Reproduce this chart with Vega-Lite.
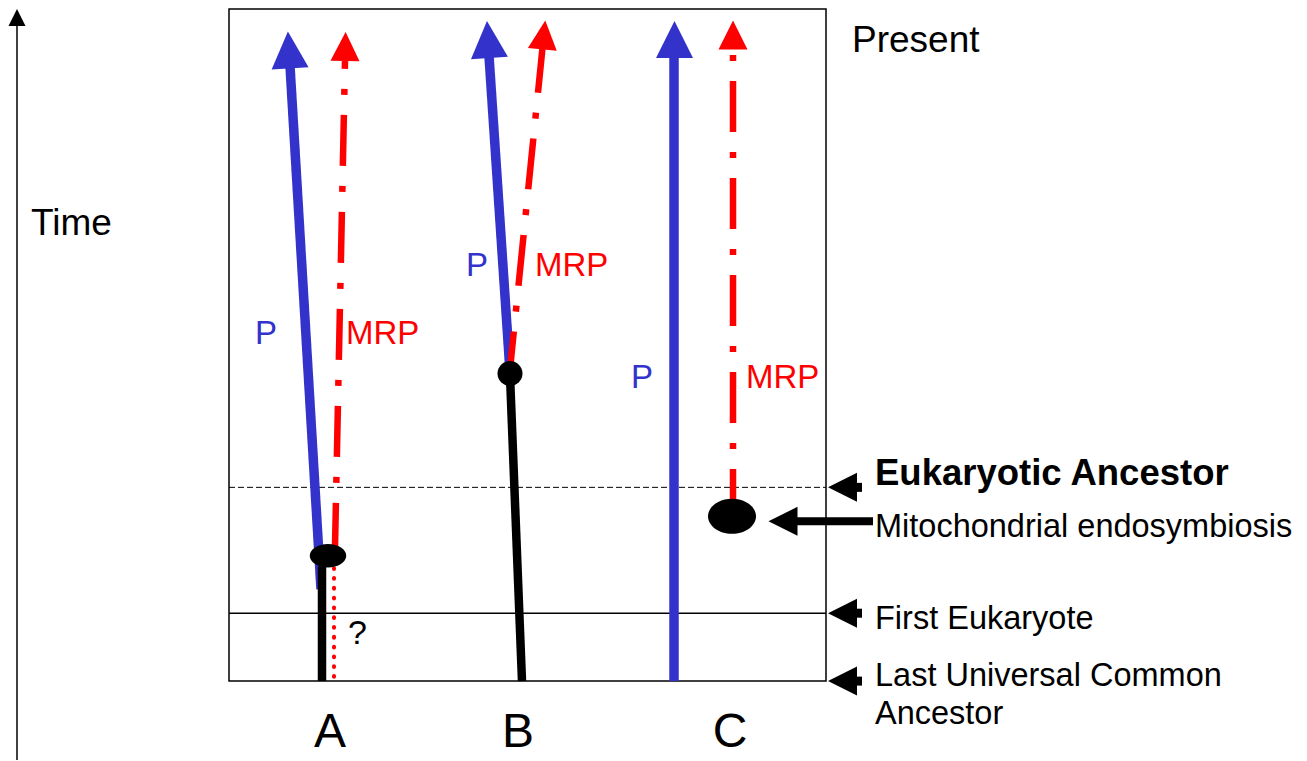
{
  "$schema": "https://vega.github.io/schema/vega-lite/v6.json",
  "width": 1307,
  "height": 761,
  "autosize": {"type": "fit", "contains": "padding"},
  "padding": 0,
  "background": "white",
  "config": {"view": {"stroke": null}, "text": {"font": "Liberation Sans"}},
  "datasets": {
    "box": [{"x": 229, "y": 9, "x2": 826, "y2": 682}],
    "hlines": [
      {"x": 229, "x2": 826, "y": 488, "kind": "dashed"},
      {"x": 229, "x2": 826, "y": 614, "kind": "solid"}
    ],
    "segs": [
      {"id": "PA", "x": 321, "y": 590, "x2": 290, "y2": 66},
      {"id": "PB", "x": 510, "y": 372, "x2": 489, "y2": 56},
      {"id": "PC", "x": 674, "y": 682, "x2": 674, "y2": 56},
      {"id": "SA", "x": 322, "y": 567, "x2": 322, "y2": 682},
      {"id": "SB", "x": 510, "y": 376, "x2": 522, "y2": 682},
      {"id": "MA", "x": 345, "y": 61, "x2": 335, "y2": 548},
      {"id": "MB", "x": 542.4, "y": 49, "x2": 510.5, "y2": 365},
      {"id": "MC", "x": 733, "y": 49, "x2": 733, "y2": 505},
      {"id": "QA", "x": 334, "y": 569, "x2": 334, "y2": 682},
      {"id": "T1", "x": 855, "y": 488, "x2": 862, "y2": 488},
      {"id": "T2", "x": 855, "y": 614, "x2": 862, "y2": 614},
      {"id": "T3", "x": 855, "y": 682, "x2": 862, "y2": 682},
      {"id": "TM", "x": 795, "y": 522, "x2": 873, "y2": 522},
      {"id": "TIME", "x": 17, "y": 761, "x2": 17, "y2": 24}
    ],
    "heads": [
      {"kind": "blue", "x": 289, "y": 50, "angle": -3.4},
      {"kind": "blue", "x": 488.2, "y": 39.5, "angle": -3.8},
      {"kind": "blue", "x": 674.5, "y": 39.5, "angle": 0},
      {"kind": "red", "x": 345.3, "y": 46.5, "angle": 1.2},
      {"kind": "red", "x": 543.8, "y": 35, "angle": 5.8},
      {"kind": "red", "x": 733, "y": 35, "angle": 0},
      {"kind": "left", "x": 842.5, "y": 488, "angle": 0},
      {"kind": "left", "x": 842.5, "y": 614, "angle": 0},
      {"kind": "left", "x": 842.5, "y": 682, "angle": 0},
      {"kind": "left", "x": 783, "y": 522, "angle": 0},
      {"kind": "time", "x": 17, "y": 17.5, "angle": 0}
    ],
    "nodes": [
      {"kind": "ellA", "x": 328, "y": 556.5},
      {"kind": "dotB", "x": 510, "y": 374},
      {"kind": "ellC", "x": 732, "y": 517}
    ],
    "labels": [
      {"kind": "letter", "x": 330, "y": 748, "label": "A"},
      {"kind": "letter", "x": 518, "y": 748, "label": "B"},
      {"kind": "letter", "x": 730, "y": 748, "label": "C"},
      {"kind": "big", "x": 852, "y": 52, "label": "Present"},
      {"kind": "big", "x": 31, "y": 235, "label": "Time"},
      {"kind": "bold", "x": 875, "y": 486, "label": "Eukaryotic Ancestor"},
      {"kind": "side", "x": 875, "y": 538, "label": "Mitochondrial endosymbiosis"},
      {"kind": "side", "x": 875, "y": 630, "label": "First Eukaryote"},
      {"kind": "side", "x": 875, "y": 687, "label": "Last Universal Common"},
      {"kind": "side", "x": 875, "y": 725, "label": "Ancestor"},
      {"kind": "q", "x": 348, "y": 645, "label": "?"},
      {"kind": "P", "x": 255, "y": 344, "label": "P"},
      {"kind": "P", "x": 466, "y": 276, "label": "P"},
      {"kind": "P", "x": 631, "y": 389, "label": "P"},
      {"kind": "MRP", "x": 346, "y": 344, "label": "MRP"},
      {"kind": "MRP", "x": 535, "y": 276, "label": "MRP"},
      {"kind": "MRP", "x": 746, "y": 389, "label": "MRP"}
    ]
  },
  "encoding": {
    "x": {"field": "x", "type": "quantitative", "scale": {"domain": [0, 1307], "nice": false, "zero": false}, "axis": null},
    "y": {"field": "y", "type": "quantitative", "scale": {"domain": [0, 761], "nice": false, "zero": false, "reverse": true}, "axis": null}
  },
  "layer": [
    {
      "data": {"name": "box"},
      "mark": {"type": "rect", "fill": null, "stroke": "black", "strokeWidth": 1.5},
      "encoding": {"x2": {"field": "x2"}, "y2": {"field": "y2"}}
    },
    {
      "data": {"name": "hlines"},
      "transform": [{"filter": "datum.kind === 'dashed'"}],
      "mark": {"type": "rule", "color": "black", "strokeWidth": 1, "strokeDash": [6, 3]},
      "encoding": {"x2": {"field": "x2"}}
    },
    {
      "data": {"name": "hlines"},
      "transform": [{"filter": "datum.kind === 'solid'"}],
      "mark": {"type": "rule", "color": "black", "strokeWidth": 1.5},
      "encoding": {"x2": {"field": "x2"}}
    },
    {
      "data": {"name": "segs"},
      "transform": [{"filter": "datum.id[0] === 'P'"}],
      "mark": {"type": "rule", "color": "#3333CC", "strokeWidth": 9.5},
      "encoding": {"x2": {"field": "x2"}, "y2": {"field": "y2"}}
    },
    {
      "data": {"name": "segs"},
      "transform": [{"filter": "datum.id === 'MA'"}],
      "mark": {"type": "rule", "color": "#FF0000", "strokeWidth": 6.5, "strokeDash": [51, 20, 6, 20], "strokeDashOffset": 43},
      "encoding": {"x2": {"field": "x2"}, "y2": {"field": "y2"}}
    },
    {
      "data": {"name": "segs"},
      "transform": [{"filter": "datum.id === 'MB'"}],
      "mark": {"type": "rule", "color": "#FF0000", "strokeWidth": 6.5, "strokeDash": [51, 20, 6, 20], "strokeDashOffset": 7},
      "encoding": {"x2": {"field": "x2"}, "y2": {"field": "y2"}}
    },
    {
      "data": {"name": "segs"},
      "transform": [{"filter": "datum.id === 'MC'"}],
      "mark": {"type": "rule", "color": "#FF0000", "strokeWidth": 6.5, "strokeDash": [51, 20, 6, 20], "strokeDashOffset": 65},
      "encoding": {"x2": {"field": "x2"}, "y2": {"field": "y2"}}
    },
    {
      "data": {"name": "segs"},
      "transform": [{"filter": "datum.id === 'QA'"}],
      "mark": {"type": "rule", "color": "#FF0000", "strokeWidth": 4, "strokeCap": "round", "strokeDash": [0.8, 9]},
      "encoding": {"x2": {"field": "x2"}, "y2": {"field": "y2"}}
    },
    {
      "data": {"name": "segs"},
      "transform": [{"filter": "datum.id[0] === 'S'"}],
      "mark": {"type": "rule", "color": "black", "strokeWidth": 8.5},
      "encoding": {"x2": {"field": "x2"}, "y2": {"field": "y2"}}
    },
    {
      "data": {"name": "segs"},
      "transform": [{"filter": "datum.id[0] === 'T' && datum.id !== 'TM' && datum.id !== 'TIME'"}],
      "mark": {"type": "rule", "color": "black", "strokeWidth": 9},
      "encoding": {"x2": {"field": "x2"}, "y2": {"field": "y2"}}
    },
    {
      "data": {"name": "segs"},
      "transform": [{"filter": "datum.id === 'TM'"}],
      "mark": {"type": "rule", "color": "black", "strokeWidth": 8},
      "encoding": {"x2": {"field": "x2"}, "y2": {"field": "y2"}}
    },
    {
      "data": {"name": "segs"},
      "transform": [{"filter": "datum.id === 'TIME'"}],
      "mark": {"type": "rule", "color": "black", "strokeWidth": 1.5},
      "encoding": {"x2": {"field": "x2"}, "y2": {"field": "y2"}}
    },
    {
      "data": {"name": "nodes"},
      "transform": [{"filter": "datum.kind === 'ellA'"}],
      "mark": {"type": "point", "filled": true, "color": "black", "opacity": 1, "shape": "M-1,0A1,0.64,0,1,1,1,0A1,0.64,0,1,1,-1,0Z", "size": 1332}
    },
    {
      "data": {"name": "nodes"},
      "transform": [{"filter": "datum.kind === 'dotB'"}],
      "mark": {"type": "point", "filled": true, "color": "black", "opacity": 1, "shape": "circle", "size": 625}
    },
    {
      "data": {"name": "nodes"},
      "transform": [{"filter": "datum.kind === 'ellC'"}],
      "mark": {"type": "point", "filled": true, "color": "black", "opacity": 1, "shape": "M-1,0A1,0.73,0,1,1,1,0A1,0.73,0,1,1,-1,0Z", "size": 2304}
    },
    {
      "data": {"name": "heads"},
      "transform": [{"filter": "datum.kind === 'blue'"}],
      "mark": {"type": "point", "filled": true, "color": "#3333CC", "opacity": 1, "shape": "M-1,1L1,1L0,-1Z", "size": 1369},
      "encoding": {"angle": {"field": "angle", "type": "quantitative", "scale": null}}
    },
    {
      "data": {"name": "heads"},
      "transform": [{"filter": "datum.kind === 'red'"}],
      "mark": {"type": "point", "filled": true, "color": "#FF0000", "opacity": 1, "shape": "M-1,1L1,1L0,-1Z", "size": 841},
      "encoding": {"angle": {"field": "angle", "type": "quantitative", "scale": null}}
    },
    {
      "data": {"name": "heads"},
      "transform": [{"filter": "datum.kind === 'left'"}],
      "mark": {"type": "point", "filled": true, "color": "black", "opacity": 1, "shape": "M-1,0L1,-1L1,1Z", "size": 841}
    },
    {
      "data": {"name": "heads"},
      "transform": [{"filter": "datum.kind === 'time'"}],
      "mark": {"type": "point", "filled": true, "color": "black", "opacity": 1, "shape": "M-1,1L1,1L0,-1Z", "size": 289}
    },
    {
      "data": {"name": "labels"},
      "transform": [{"filter": "datum.kind === 'letter'"}],
      "mark": {"type": "text", "fontSize": 48, "align": "center", "baseline": "alphabetic", "color": "black", "font": "Liberation Sans"},
      "encoding": {"text": {"field": "label"}}
    },
    {
      "data": {"name": "labels"},
      "transform": [{"filter": "datum.kind === 'big'"}],
      "mark": {"type": "text", "fontSize": 37, "align": "left", "baseline": "alphabetic", "color": "black", "font": "Liberation Sans"},
      "encoding": {"text": {"field": "label"}}
    },
    {
      "data": {"name": "labels"},
      "transform": [{"filter": "datum.kind === 'bold'"}],
      "mark": {"type": "text", "fontSize": 36.5, "fontWeight": "bold", "align": "left", "baseline": "alphabetic", "color": "black", "font": "Liberation Sans"},
      "encoding": {"text": {"field": "label"}}
    },
    {
      "data": {"name": "labels"},
      "transform": [{"filter": "datum.kind === 'side'"}],
      "mark": {"type": "text", "fontSize": 32.5, "align": "left", "baseline": "alphabetic", "color": "black", "font": "Liberation Sans"},
      "encoding": {"text": {"field": "label"}}
    },
    {
      "data": {"name": "labels"},
      "transform": [{"filter": "datum.kind === 'q'"}],
      "mark": {"type": "text", "fontSize": 34, "align": "left", "baseline": "alphabetic", "color": "black", "font": "Liberation Sans"},
      "encoding": {"text": {"field": "label"}}
    },
    {
      "data": {"name": "labels"},
      "transform": [{"filter": "datum.kind === 'P'"}],
      "mark": {"type": "text", "fontSize": 33, "align": "left", "baseline": "alphabetic", "color": "#3333CC", "font": "Liberation Sans"},
      "encoding": {"text": {"field": "label"}}
    },
    {
      "data": {"name": "labels"},
      "transform": [{"filter": "datum.kind === 'MRP'"}],
      "mark": {"type": "text", "fontSize": 33, "align": "left", "baseline": "alphabetic", "color": "#FF0000", "font": "Liberation Sans"},
      "encoding": {"text": {"field": "label"}}
    }
  ]
}
